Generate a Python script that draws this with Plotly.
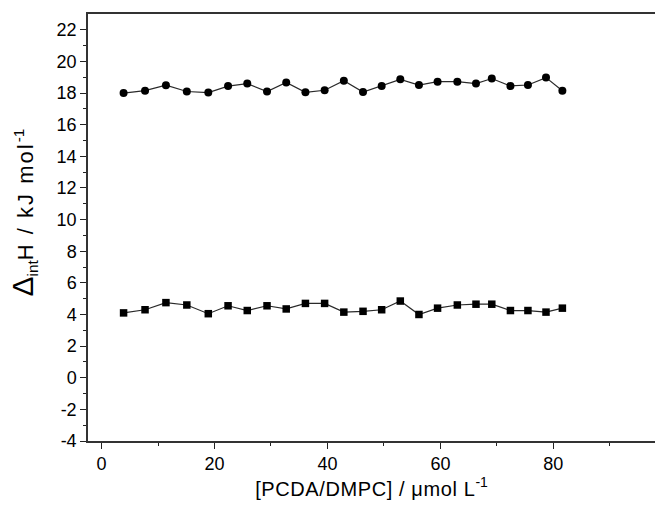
import plotly.graph_objects as go

conc = [3.9, 7.7, 11.4, 15.1, 18.9, 22.4, 25.8, 29.3, 32.7, 36.1, 39.5, 42.9,
        46.3, 49.6, 52.9, 56.2, 59.5, 63.0, 66.3, 69.1, 72.4, 75.5, 78.7, 81.6]
upper = [18.0, 18.15, 18.5, 18.1, 18.03, 18.44, 18.6, 18.1, 18.67, 18.05, 18.18, 18.78,
         18.07, 18.45, 18.87, 18.51, 18.72, 18.72, 18.6, 18.92, 18.45, 18.51, 18.98, 18.15]
lower = [4.1, 4.3, 4.75, 4.6, 4.05, 4.55, 4.25, 4.55, 4.35, 4.7, 4.7, 4.15,
         4.2, 4.3, 4.85, 4.0, 4.4, 4.6, 4.65, 4.65, 4.25, 4.25, 4.15, 4.4]
y_ticks = list(range(-4, 23, 2))
y_labels = [str(v) for v in y_ticks]  # plain hyphen minus as in the reference
x_ticks = [0, 20, 40, 60, 80]

fig = go.Figure()
fig.add_trace(go.Scatter(x=conc, y=upper, mode="lines+markers",
                         line=dict(color="#2a2a2a", width=1.2),
                         marker=dict(symbol="circle", size=8, color="black")))
fig.add_trace(go.Scatter(x=conc, y=lower, mode="lines+markers",
                         line=dict(color="#2a2a2a", width=1.2),
                         marker=dict(symbol="square", size=7.5, color="black")))

font = "Liberation Sans, Arial, sans-serif"
fig.update_layout(
    width=655, height=506,
    margin=dict(l=88, r=0, t=14, b=65),
    paper_bgcolor="white", plot_bgcolor="white",
    showlegend=False,
    font=dict(family=font, size=18, color="black"),
)
fig.update_xaxes(
    range=[-2.4, 98], tickvals=x_ticks, ticktext=[str(v) for v in x_ticks],
    ticks="outside", ticklen=6,
    tickwidth=1, tickcolor="#222", showline=True, linecolor="#333", linewidth=1.5,
    mirror=True, showgrid=False, zeroline=False,
    minor=dict(tickvals=[10, 30, 50, 70, 90], ticks="outside", ticklen=3, tickcolor="#222"),
    title=dict(text="<span style='letter-spacing:0.6px'>[PCDA/DMPC] / μmol L</span><sup>-1</sup>",
               font=dict(size=20), standoff=8),
    tickfont=dict(size=18),
)
fig.update_yaxes(
    range=[-4, 23], tickvals=y_ticks, ticktext=y_labels, ticks="outside", ticklen=6,
    tickwidth=1, tickcolor="#222", showline=True, linecolor="#333", linewidth=1.5,
    mirror=False, showgrid=False, zeroline=False,
    minor=dict(tickvals=list(range(-3, 23, 2)), ticks="outside", ticklen=3, tickcolor="#222"),
    tickfont=dict(size=18),
)
fig.add_annotation(
    text="<span style='font-size:30px'>Δ</span><sub>int</sub>"
         "<span style='letter-spacing:2px'>H / kJ mol</span><sup>-1</sup>",
    xref="paper", yref="paper", x=-0.113, y=0.535, xanchor="center", yanchor="middle",
    textangle=-90, showarrow=False, font=dict(size=22, family=font, color="black"),
)
fig.write_html("out.html")
